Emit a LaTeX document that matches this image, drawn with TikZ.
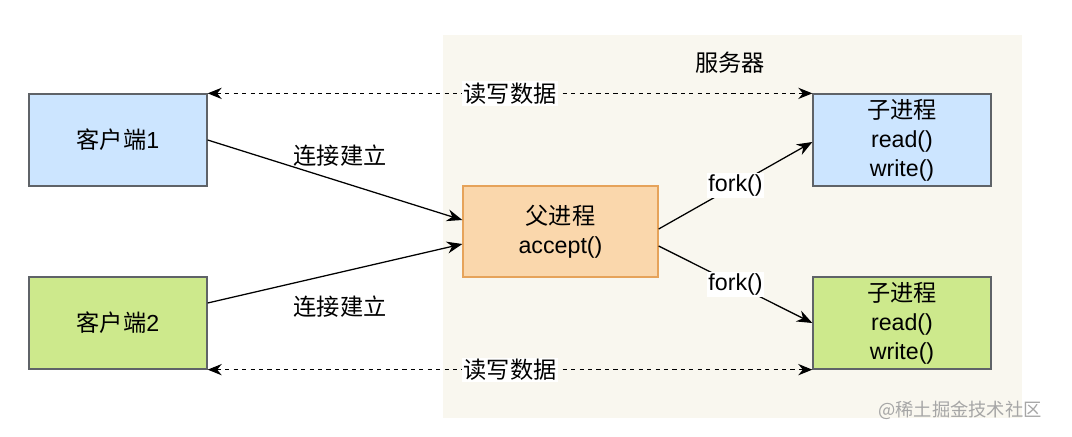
\documentclass[tikz,border=0pt]{standalone}
\usepackage{fontspec}
\setmainfont{Liberation Sans}
\newfontfamily\cjk{Noto Sans CJK SC}
\usetikzlibrary{arrows.meta,calc}

\definecolor{servbg}{HTML}{F9F7EF}
\definecolor{boxline}{HTML}{5F6368}
\definecolor{blueish}{HTML}{CCE5FF}
\definecolor{greenish}{HTML}{CDE98C}
\definecolor{orangeish}{HTML}{FAD7AC}
\definecolor{orangeline}{HTML}{E6A35A}

\tikzset{
  proc/.style={draw=boxline, line width=0.9pt, minimum width=4.45cm, minimum height=2.3cm,
    align=center, font=\fontsize{16.5}{20.5}\selectfont},
  link/.style={line width=0.9pt, -{Stealth[length=11pt,width=8.5pt]}},
  rw/.style={line width=0.7pt, dashed, {Stealth[length=10pt,width=8pt]}-{Stealth[length=10pt,width=8pt]}},
  tag/.style={fill=white, inner sep=1pt, font=\fontsize{16.5}{19}\selectfont}
}

\begin{document}
\begin{tikzpicture}[x=0.025cm, y=-0.025cm]

	\useasboundingbox[fill=white] (0,0) rectangle (1072,436);
	\fill[servbg] (443,35) rectangle (1022,418);
	\node[font=\fontsize{16.5}{19}\selectfont\cjk] (server) at (730,63) {服务器};

	\node[proc, fill=blueish] (client1) at (118,140) {{\cjk 客户端}1};
	\node[proc, fill=greenish] (client2) at (118,323) {{\cjk 客户端}2};
	\node[proc, fill=orangeish, draw=orangeline, minimum width=4.875cm, minimum height=2.275cm] (parent) at (560.5,231.5) {{\cjk 父进程}\\accept()};
	\node[proc, fill=blueish] (child1) at (902,140) {{\cjk 子进程}\\read()\\write()};
	\node[proc, fill=greenish] (child2) at (902,323) {{\cjk 子进程}\\read()\\write()};

	\draw[rw] (client1.north east) -- node[tag, font=\fontsize{16.5}{19}\selectfont\cjk] {读写数据} (child1.north west);
	\draw[rw] (client2.south east) -- node[tag, font=\fontsize{16.5}{19}\selectfont\cjk] {读写数据} (child2.south west);

	\draw[link] (client1.east) -- node[pos=0.52, yshift=0.64cm, font=\fontsize{16.5}{19}\selectfont\cjk] {连接建立} ($(parent.west)+(0,-11.5)$);
	\draw[link] ($(client2.east)+(0,-20)$) -- node[pos=0.52, yshift=-0.85cm, font=\fontsize{16.5}{19}\selectfont\cjk] {连接建立} ($(parent.west)+(0,12.5)$);

	\draw[link] ($(parent.east)+(0,-2.5)$) -- node[tag] {fork()} ($(child1.west)+(0,2)$);
	\draw[link] ($(parent.east)+(0,14.5)$) -- node[tag] {fork()} (child2.west);

	\node[text=gray!70, font=\fontsize{13}{15}\selectfont\cjk] (mark) at (960,410) {@稀土掘金技术社区};
\end{tikzpicture}
\end{document}
